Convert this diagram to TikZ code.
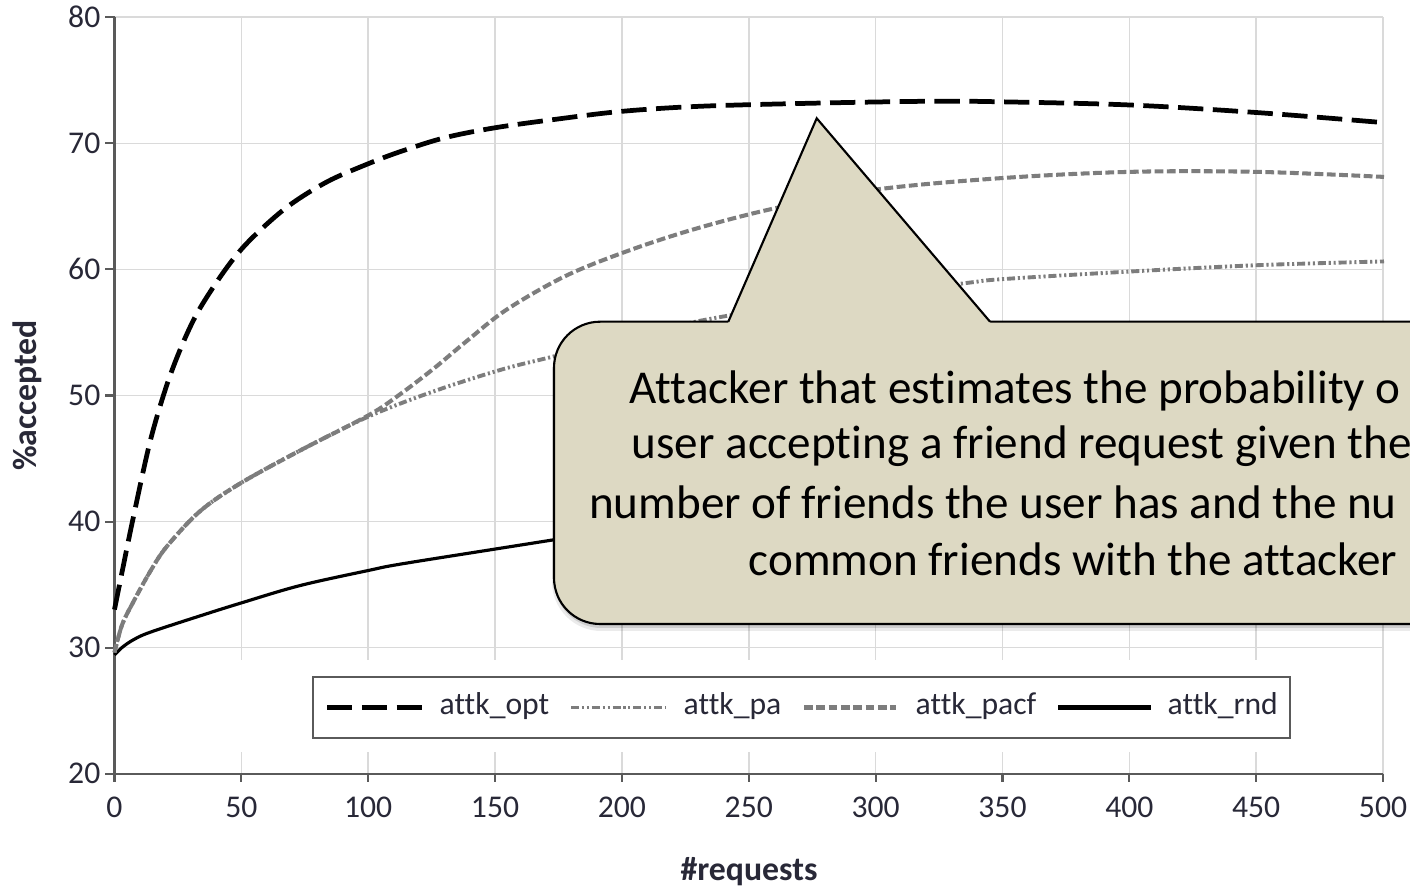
\documentclass[tikz,border=0pt]{standalone}
\usepackage{fontspec}
\setmainfont{Carlito}[RawFeature={-liga;-clig}]
\definecolor{gridc}{RGB}{218,218,218}
\definecolor{axisc}{RGB}{90,90,90}
\definecolor{txtc}{RGB}{40,40,55}
\definecolor{grayc}{RGB}{125,125,125}
\definecolor{callc}{RGB}{221,217,195}
\begin{document}
\begin{tikzpicture}[x=0.01cm,y=-0.01cm,
  gridline/.style={draw=gridc, line width=0.45pt},
  axisline/.style={draw=axisc, line width=0.6pt},
  ticklab/.style={font=\fontsize{9}{10}\selectfont, text=txtc, inner sep=0pt},
  axlab/.style={font=\bfseries\fontsize{9.6}{11}\selectfont, text=txtc, inner sep=0pt},
  optline/.style={draw=black, line width=1.35pt, dash pattern=on 7.2pt off 2.7pt},
  paline/.style={draw=grayc, line width=1.1pt, dash pattern=on 2.3pt off 0.8pt on 0.6pt off 0.8pt on 0.6pt off 0.8pt},
  pacfline/.style={draw=grayc, line width=1.15pt, dash pattern=on 2.5pt off 1.0pt},
  rndline/.style={draw=black, line width=0.9pt},
  legtext/.style={font=\fontsize{9}{10}\selectfont, text=txtc, anchor=base west, inner sep=0pt},
  calltext/.style={font=\fontsize{13.4}{16}\selectfont, anchor=base west, inner sep=0pt},
]
\useasboundingbox (0,0) rectangle (1410,886);
\clip (0,0) rectangle (1410,886);
\fill[white] (0,0) rectangle (1410,886);

% grid
\foreach \k in {1,...,10} \draw[gridline] ({114.5+126.85*\k},17.3) -- ({114.5+126.85*\k},773.7);
\foreach \k in {1,...,6} \draw[gridline] (114.5,{773.7-126.07*\k}) -- (1383,{773.7-126.07*\k});
% white band behind legend
\fill[white] (116,660) rectangle (1380.5,752);

% axes
\draw[axisline] (114.5,17.3) -- (114.5,773.7) -- (1383,773.7);
\foreach \k/\v in {0/20,1/30,2/40,3/50,4/60,5/70,6/80} {
  \draw[axisline] (105,{773.7-126.07*\k}) -- (114.5,{773.7-126.07*\k});
  \node[ticklab, anchor=east] (yl\v) at (101,{773.7-126.07*\k}) {\v};
}
\foreach \k/\v in {0/0,1/50,2/100,3/150,4/200,5/250,6/300,7/350,8/400,9/450,10/500} {
  \draw[axisline] ({114.5+126.85*\k},773.7) -- ({114.5+126.85*\k},782);
  \node[ticklab] (xl\v) at ({114.5+126.85*\k},807) {\v};
}
\node[axlab, rotate=90] (ylab) at (27,395.5) {\%accepted};
\node[axlab, anchor=base] (xlab) at (749,880) {\#requests};

% curves (data coordinates)
\begin{scope}[shift={(114.5,1025.84)}, x=0.02537cm, y=0.12607cm]
\draw[rndline] plot[smooth, tension=0.55] coordinates {(0,29.4) (3,30.0) (7.4,30.6) (14,31.2) (33.7,32.5) (49.5,33.5) (73,34.9) (100,36.1) (112.5,36.6) (150,37.8) (172,38.5) (250,41) (350,43.5) (500,46)};
\draw[paline] plot[smooth, tension=0.55] coordinates {(0,29.6) (3,31.8) (7.4,33.6) (14,36.0) (20.6,38.0) (33.7,40.8) (49.5,43.0) (73,45.6) (100,48.3) (125.7,50.3) (152,52.0) (171.6,53.0) (200,54.4) (230.8,55.9) (270,57.2) (300,58.0) (336,58.9) (350,59.2) (400,59.8) (450,60.3) (500,60.6)};
\draw[pacfline] plot[smooth, tension=0.55] coordinates {(0,29.6) (3,31.8) (7.4,33.6) (14,36.0) (20.6,38.0) (33.7,40.8) (49.5,43.0) (73,45.6) (100,48.4) (112,50.0) (125.7,52.1) (138.8,54.3) (154.6,56.8) (178.2,59.5) (204.5,61.6) (230.8,63.3) (261,64.85) (300,66.3) (349,67.2) (400,67.7) (450,67.7) (500,67.3)};
\draw[optline] plot[smooth, tension=0.55] coordinates {(0,33.0) (3,36.0) (7.4,40.3) (14,46.3) (20.6,50.8) (27.1,54.2) (33.7,56.9) (44.2,60.1) (53.4,62.3) (67.9,64.9) (83.6,66.9) (99.4,68.3) (112.5,69.3) (130,70.4) (150,71.2) (175,71.9) (200,72.5) (230.8,72.9) (276.8,73.15) (322.7,73.3) (350,73.25) (400,73.0) (450,72.4) (500,71.6)};
\end{scope}

% legend
\node[draw=axisc, line width=0.6pt, fill=white, minimum width=9.765cm, minimum height=0.61cm, inner sep=0pt] (legend) at (801.75,707.5) {};
\coordinate (l1a) at (327,707.5); \coordinate (l1b) at (423,707.5);
\coordinate (l2a) at (571,707.5); \coordinate (l2b) at (665,707.5);
\coordinate (l3a) at (804,707.5); \coordinate (l3b) at (896,707.5);
\coordinate (l4a) at (1058,707.5); \coordinate (l4b) at (1151,707.5);
\draw[optline] (l1a) -- (l1b);
\draw[paline] (l2a) -- (l2b);
\draw[pacfline] (l3a) -- (l3b);
\draw[rndline, line width=1.2pt] (l4a) -- (l4b);
\node[legtext] (t1) at (439,714) {attk\_opt};
\node[legtext] (t2) at (683,714) {attk\_pa};
\node[legtext] (t3) at (915,714) {attk\_pacf};
\node[legtext] (t4) at (1167,714) {attk\_rnd};

% callout shadow
\fill[black, opacity=0.08, rounded corners=14pt] (552,324) rectangle (1602,631);
\fill[black, opacity=0.12, rounded corners=13.5pt] (554,323) rectangle (1600,628);
% callout body
\draw[fill=callc, draw=black, line width=0.6pt, rounded corners=13.1pt] (554,321.7) rectangle (1600,624);
\fill[callc] (728.3,321.7) -- (816.7,118.3) -- (990,321.7) -- (990,324.5) -- (728.3,324.5) -- cycle;
\coordinate (pl) at (728.3,321.7);
\coordinate (pt) at (816.7,118.3);
\coordinate (pr) at (990,321.7);
\draw[black, line width=0.6pt, line join=miter] (pl) -- (pt) -- (pr);
\node[calltext] (c1) at (629,403.3) {Attacker that estimates the probability o};
\node[calltext] (c2) at (631,459) {user accepting a friend request given the};
\node[calltext] (c3) at (588.5,518.3) {number of friends the user has and the nu};
\node[calltext] (c4) at (748,576) {common friends with the attacker};
\end{tikzpicture}
\end{document}
